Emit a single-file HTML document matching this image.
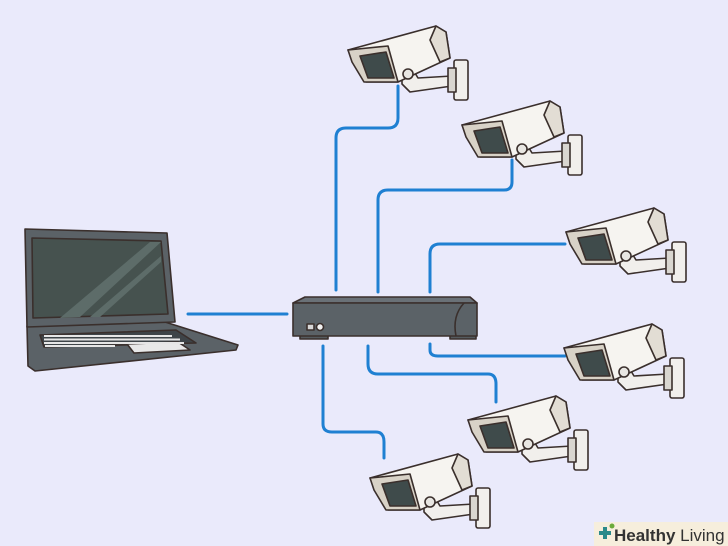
<!DOCTYPE html>
<html><head><meta charset="utf-8"><style>
html,body{margin:0;padding:0;background:#eaeafb;}
svg{display:block}
</style></head><body>
<svg width="728" height="546" viewBox="0 0 728 546" xmlns="http://www.w3.org/2000/svg">
<rect width="728" height="546" fill="#eaeafb"/>
<defs>
<g id="cam" stroke="#3a2f2c" stroke-width="1.6" stroke-linejoin="round">
  <polygon points="56,50 66,48 72,58 106,56 106,66 64,72 56,64" fill="#f1efec"/>
  <rect x="108" y="40" width="14" height="40" rx="2" fill="#f1efec"/>
  <rect x="102" y="48" width="8" height="24" fill="#d9d6d0"/>
  <polygon points="2,30 90,6 100,12 104,38 52,62 20,62" fill="#f6f4f0"/>
  <polygon points="90,6 100,12 104,38 94,42 84,20" fill="#e2ddd4"/>
  <polygon points="2,30 42,26 52,62 18,62 6,42" fill="#d8d2c7"/>
  <polygon points="14,36 40,32 48,58 22,58" fill="#3f4b4b"/>
  <circle cx="62" cy="54" r="5" fill="#e8e6e2"/>
</g>
</defs>
<g fill="none" stroke="#1f80d2" stroke-width="3" stroke-linecap="round" stroke-linejoin="round">
  <line x1="188" y1="314" x2="287" y2="314"/>
  <path d="M398 86 V118 Q398 128 388 128 H346 Q336 128 336 138 V290"/>
  <path d="M512 160 V182 Q512 190 504 190 H388 Q378 190 378 200 V292"/>
  <path d="M565 244 H440 Q430 244 430 254 V292"/>
  <path d="M430 344 V350 Q430 356 438 356 H565"/>
  <path d="M368 346 V364 Q368 374 378 374 H488 Q496 374 496 384 V402"/>
  <path d="M323 346 V424 Q323 432 332 432 H376 Q384 432 384 442 V458"/>
</g>
<!-- router -->
<g stroke="#3a2f2c" stroke-width="1.6" stroke-linejoin="round">
  <rect x="300" y="334" width="28" height="5" fill="#555b5f"/>
  <rect x="450" y="334" width="26" height="5" fill="#555b5f"/>
  <polygon points="293,303 305,297 470,297 477,303" fill="#6a7177"/>
  <rect x="293" y="303" width="184" height="33" fill="#5b6267"/>
  <path d="M464 303 Q452 316 456 336" fill="none"/>
  <rect x="307" y="324" width="7" height="6" fill="#d7d7d7"/>
  <circle cx="320" cy="327" r="3.5" fill="#f2f2f2"/>
</g>
<!-- laptop -->
<g stroke="#3a2f2c" stroke-width="1.6" stroke-linejoin="round">
  <polygon points="27,326 165,322 238,345 236,350 35,371 28,366" fill="#5b6267"/>
  <polygon points="25,229 167,233 175,322 27,327" fill="#5b6267"/>
  <polygon points="32,238 161,241 168,314 33,318" fill="#46524f"/>
  <polygon points="60,318 150,242 161,242 80,317" fill="#5d6c69" stroke="none"/>
  <polygon points="90,317 161,256 161,262 100,317" fill="#5d6c69" stroke="none"/>
  <polygon points="40,335 176,330 196,343 44,347" fill="#3e4448"/>
  <polygon points="127,344 178,342 190,350 134,353" fill="#e8e8e8"/>
</g>
<g fill="#e6e6e6">
  <rect x="44" y="335" width="128" height="2"/>
  <rect x="44" y="338.5" width="136" height="2"/>
  <rect x="44" y="342" width="140" height="2"/>
  <rect x="45" y="345" width="70" height="2"/>
</g>
<use href="#cam" transform="translate(346,20)"/>
<use href="#cam" transform="translate(460,95)"/>
<use href="#cam" transform="translate(564,202)"/>
<use href="#cam" transform="translate(562,318)"/>
<use href="#cam" transform="translate(466,390)"/>
<use href="#cam" transform="translate(368,448)"/>
<!-- logo -->
<rect x="594" y="522" width="134" height="24" fill="#f6eedc"/>
<rect x="599" y="531" width="12" height="4" fill="#2a8a8a"/>
<rect x="603" y="527" width="4" height="12" fill="#2a8a8a"/>
<circle cx="612" cy="526" r="2.5" fill="#6aaa3a"/>
<text x="614" y="541" font-family="Liberation Sans, sans-serif" font-size="17" fill="#333"><tspan font-weight="bold">Healthy</tspan> Living</text>
</svg>
</body></html>
